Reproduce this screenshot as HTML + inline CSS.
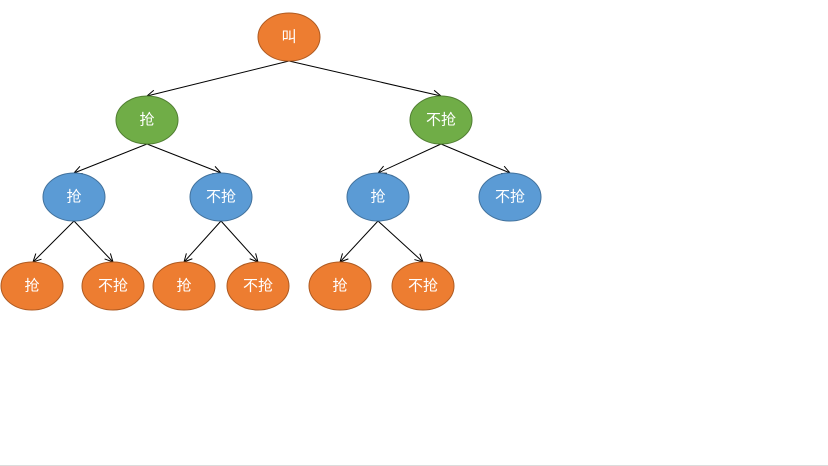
<!DOCTYPE html>
<html><head><meta charset="utf-8"><style>
html,body{margin:0;padding:0;background:#fff;}
svg{display:block;}
text{font-family:"Liberation Sans","Noto Sans CJK SC",sans-serif;font-size:15px;fill:#fff;text-anchor:middle;dominant-baseline:central;}
</style></head><body>
<svg width="828" height="466" viewBox="0 0 828 466" xmlns="http://www.w3.org/2000/svg">
<defs><marker id="a" markerWidth="10" markerHeight="10" refX="9" refY="5" orient="auto" markerUnits="userSpaceOnUse"><path d="M1,1 L9,5 L1,9" fill="none" stroke="#000" stroke-width="1"/></marker></defs>
<g stroke="#000" stroke-width="1" marker-end="url(#a)">
<line x1="289" y1="61" x2="147" y2="96"/>
<line x1="289" y1="61" x2="441" y2="96"/>
<line x1="147" y1="144" x2="74" y2="173"/>
<line x1="147" y1="144" x2="221" y2="173"/>
<line x1="441" y1="144" x2="378" y2="173"/>
<line x1="441" y1="144" x2="510" y2="173"/>
<line x1="74" y1="221" x2="33" y2="262"/>
<line x1="74" y1="221" x2="113" y2="262"/>
<line x1="221" y1="221" x2="184" y2="262"/>
<line x1="221" y1="221" x2="258" y2="262"/>
<line x1="378" y1="221" x2="340" y2="262"/>
<line x1="378" y1="221" x2="423" y2="262"/>
</g>
<g stroke-width="1">
<ellipse cx="289" cy="37" rx="31" ry="24" fill="#ED7D31" stroke="#AE5A21"/>
<ellipse cx="147" cy="120" rx="31" ry="24" fill="#70AD47" stroke="#507E32"/>
<ellipse cx="441" cy="120" rx="31" ry="24" fill="#70AD47" stroke="#507E32"/>
<ellipse cx="74" cy="197" rx="31" ry="24" fill="#5B9BD5" stroke="#41719C"/>
<ellipse cx="221" cy="197" rx="31" ry="24" fill="#5B9BD5" stroke="#41719C"/>
<ellipse cx="378" cy="197" rx="31" ry="24" fill="#5B9BD5" stroke="#41719C"/>
<ellipse cx="510" cy="197" rx="31" ry="24" fill="#5B9BD5" stroke="#41719C"/>
<ellipse cx="32" cy="286" rx="31" ry="24" fill="#ED7D31" stroke="#AE5A21"/>
<ellipse cx="113" cy="286" rx="31" ry="24" fill="#ED7D31" stroke="#AE5A21"/>
<ellipse cx="184" cy="286" rx="31" ry="24" fill="#ED7D31" stroke="#AE5A21"/>
<ellipse cx="258" cy="286" rx="31" ry="24" fill="#ED7D31" stroke="#AE5A21"/>
<ellipse cx="340" cy="286" rx="31" ry="24" fill="#ED7D31" stroke="#AE5A21"/>
<ellipse cx="423" cy="286" rx="31" ry="24" fill="#ED7D31" stroke="#AE5A21"/>
</g>
<text x="289" y="37">叫</text>
<text x="147" y="120">抢</text>
<text x="441" y="120">不抢</text>
<text x="74" y="197">抢</text>
<text x="221" y="197">不抢</text>
<text x="378" y="197">抢</text>
<text x="510" y="197">不抢</text>
<text x="32" y="286">抢</text>
<text x="113" y="286">不抢</text>
<text x="184" y="286">抢</text>
<text x="258" y="286">不抢</text>
<text x="340" y="286">抢</text>
<text x="423" y="286">不抢</text>
<rect x="0" y="465" width="828" height="1" fill="#dcdcdc"/>
</svg>
</body></html>
